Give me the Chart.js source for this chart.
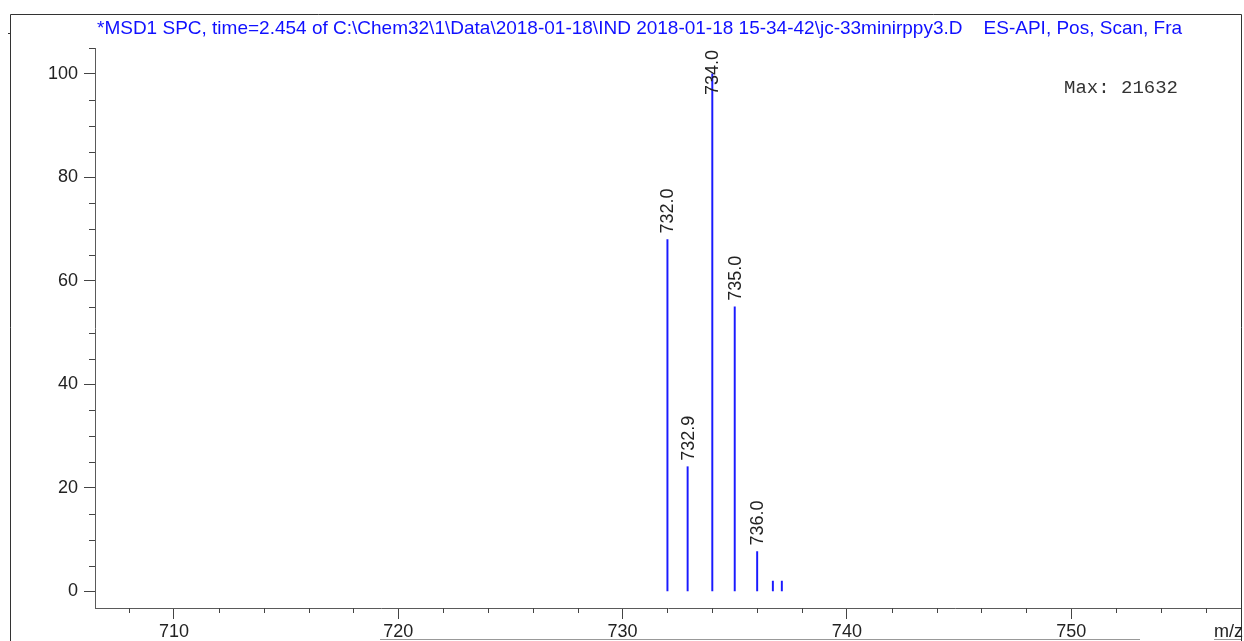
<!DOCTYPE html>
<html>
<head>
<meta charset="utf-8">
<title>MSD1 SPC</title>
<script src="https://cdn.jsdelivr.net/npm/chart.js@4/dist/chart.umd.min.js"></script>
<style>
  html, body { margin: 0; padding: 0; background: #fff; }
  canvas { display: block; }
</style>
</head>
<body>
<canvas id="spectrum" width="1244" height="641"></canvas>
<script>
// m/z of each peak and its relative abundance (% of max)
const mzValues = [732.0, 732.9, 734.0, 735.0, 736.0, 736.7, 737.1];
const abundance = [68.0, 24.1, 100.0, 55.0, 7.7, 2.0, 2.0];
const labeled = [true, true, true, true, true, false, false];

const xTickValues = [710, 720, 730, 740, 750];
const yTickValues = [0, 20, 40, 60, 80, 100];

const titleText = '*MSD1 SPC, time=2.454 of C:\\Chem32\\1\\Data\\2018-01-18\\IND 2018-01-18 15-34-42\\jc-33minirppy3.D    ES-API, Pos, Scan, Fra';
const maxText = 'Max: 21632';

document.addEventListener('DOMContentLoaded', () => {
  const ctx = document.getElementById('spectrum').getContext('2d');
  const sans = '"Liberation Sans", Arial, sans-serif';

  // frame, header text, minor ticks and peak labels
  const decorations = {
    id: 'decorations',
    afterDraw(chart) {
      const c = chart.ctx;
      const area = chart.chartArea;
      const xs = chart.scales.x;
      const ys = chart.scales.y;
      c.save();

      // outer frame
      c.strokeStyle = '#333';
      c.lineWidth = 1;
      c.beginPath();
      c.moveTo(10.5, 641); c.lineTo(10.5, 14.5); c.lineTo(1241.5, 14.5); c.lineTo(1241.5, 641);
      c.moveTo(8, 33.5); c.lineTo(11, 33.5);
      c.stroke();
      c.strokeStyle = '#999';
      c.beginPath();
      c.moveTo(380, 639.5); c.lineTo(1140, 639.5);
      c.moveTo(1214, 639.5); c.lineTo(1241, 639.5);
      c.stroke();

      // minor ticks
      c.strokeStyle = '#444';
      c.beginPath();
      for (let v = 5; v <= 105; v += 5) {
        if (v % 20 === 0) continue;
        const py = Math.round(ys.getPixelForValue(v)) + 0.5;
        c.moveTo(area.left - 6, py); c.lineTo(area.left, py);
      }
      for (let v = 708; v <= 757; v += 2) {
        if (v % 10 === 0) continue;
        const px = Math.round(xs.getPixelForValue(v)) + 0.5;
        c.moveTo(px, area.bottom); c.lineTo(px, area.bottom + 5);
      }
      c.stroke();

      // header
      c.fillStyle = '#1010ff';
      c.font = '19px ' + sans;
      c.textBaseline = 'alphabetic';
      c.textAlign = 'left';
      c.fillText(titleText, 97, 34);

      c.fillStyle = '#333';
      c.font = '19px "Liberation Mono", "Courier New", monospace';
      c.fillText(maxText, 1064, 93);

      c.fillStyle = '#222';
      c.font = '18px ' + sans;
      c.textAlign = 'right';
      c.fillText('m/z', 1243, 637);

      // peak labels, rotated, kept inside the plot area
      c.font = '18px ' + sans;
      c.fillStyle = '#222';
      c.textAlign = 'left';
      c.textBaseline = 'middle';
      mzValues.forEach((mz, i) => {
        if (!labeled[i]) return;
        const text = mz.toFixed(1);
        const w = c.measureText(text).width;
        const px = xs.getPixelForValue(mz) + 1;
        const top = ys.getPixelForValue(abundance[i]);
        const start = Math.max(top - 6, area.top + 2 + w);
        c.save();
        c.translate(px, start);
        c.rotate(-Math.PI / 2);
        c.fillText(text, 0, 0);
        c.restore();
      });

      c.restore();
    }
  };

  new Chart(ctx, {
    type: 'bar',
    data: {
      datasets: [{
        data: mzValues.map((mz, i) => ({ x: mz, y: abundance[i] })),
        backgroundColor: '#1a1aff',
        borderWidth: 0,
        barThickness: 1.3,
        grouped: false
      }]
    },
    options: {
      responsive: false,
      animation: false,
      layout: { padding: { top: 48, right: 3, left: 0, bottom: 0 } },
      plugins: {
        legend: { display: false },
        tooltip: { enabled: false },
        title: { display: false }
      },
      scales: {
        x: {
          type: 'linear',
          min: 706.48,
          max: 757.57,
          offset: false,
          afterBuildTicks: (scale) => { scale.ticks = xTickValues.map(v => ({ value: v })); },
          afterFit: (scale) => { scale.height = 33; },
          grid: { display: true, offset: false, drawOnChartArea: false, drawTicks: true, tickLength: 11, tickColor: '#444' },
          border: { display: true, color: '#5a5a5a', width: 1 },
          ticks: { color: '#222', font: { family: sans, size: 18 }, padding: 2, maxRotation: 0, autoSkip: false }
        },
        y: {
          min: -3.2,
          max: 105,
          afterBuildTicks: (scale) => { scale.ticks = yTickValues.map(v => ({ value: v })); },
          afterFit: (scale) => { scale.width = 95; },
          grid: { display: true, drawOnChartArea: false, drawTicks: true, tickLength: 11, tickColor: '#444' },
          border: { display: true, color: '#5a5a5a', width: 1 },
          ticks: { color: '#222', font: { family: sans, size: 18 }, padding: 6 }
        }
      }
    },
    plugins: [decorations]
  });
});
</script>
</body>
</html>
